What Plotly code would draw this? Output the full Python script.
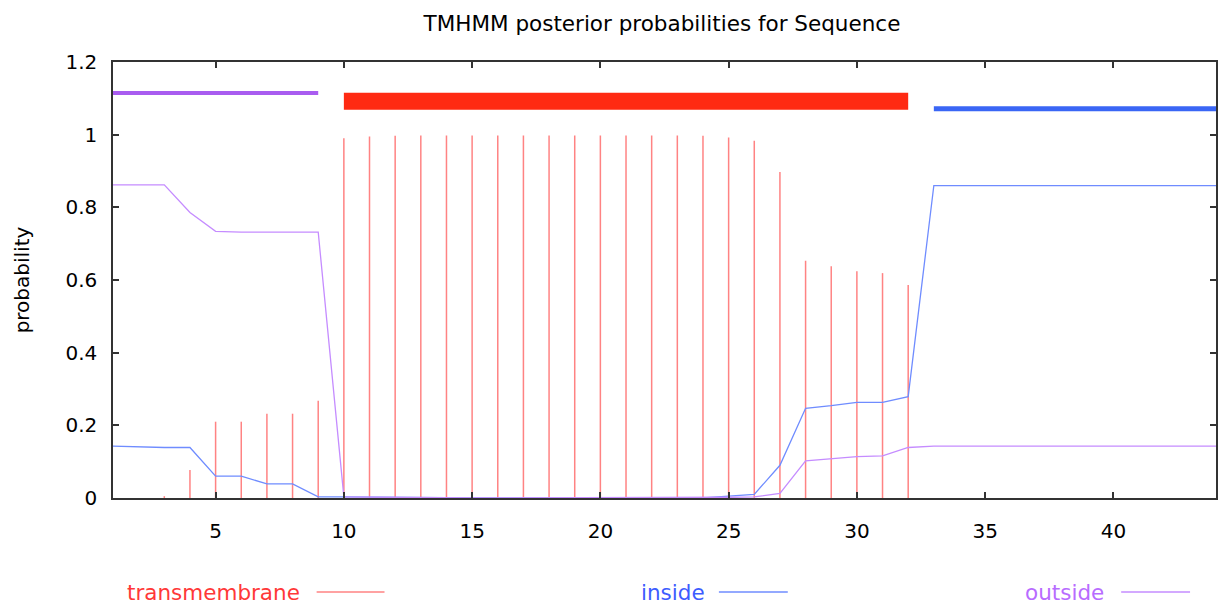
import plotly.graph_objects as go

# ---- data ----
positions = list(range(1, 45))
transmembrane = [0.0, 0.0, 0.005, 0.077, 0.21, 0.21, 0.232, 0.232, 0.268,
                 0.99, 0.995, 0.997, 0.998, 0.998, 0.998, 0.998, 0.998, 0.998, 0.998,
                 0.998, 0.998, 0.998, 0.998, 0.997, 0.992, 0.983, 0.897,
                 0.653, 0.638, 0.624, 0.619, 0.586,
                 0, 0, 0, 0, 0, 0, 0, 0, 0, 0, 0, 0]
inside = [0.143, 0.14, 0.139, 0.139, 0.06, 0.06, 0.039, 0.039, 0.003,
          0.003, 0.003, 0.002, 0.001, 0.001, 0.0, 0.0, 0.0, 0.0, 0.0,
          0.0, 0.0, 0.0, 0.0, 0.0, 0.005, 0.01, 0.09,
          0.247, 0.254, 0.263, 0.263, 0.279,
          0.86, 0.86, 0.86, 0.86, 0.86, 0.86, 0.86, 0.86, 0.86, 0.86, 0.86, 0.86]
outside = [0.862, 0.862, 0.862, 0.786, 0.734, 0.732, 0.732, 0.732, 0.732,
           0.003, 0.002, 0.001, 0.001, 0.0, 0.0, 0.0, 0.0, 0.0, 0.0,
           0.0, 0.0, 0.0, 0.0, 0.0, 0.002, 0.003, 0.013,
           0.102, 0.107, 0.114, 0.116, 0.139,
           0.143, 0.143, 0.143, 0.143, 0.143, 0.143, 0.143, 0.143, 0.143, 0.143, 0.143, 0.143]

# predicted topology segments: (label, start, end, level)
topology = [("outside", 1, 9, 1.115), ("TMhelix", 10, 32, 1.092), ("inside", 33, 44, 1.071)]

x_ticks = [5, 10, 15, 20, 25, 30, 35, 40]
y_ticks = [0, 0.2, 0.4, 0.6, 0.8, 1, 1.2]

# ---- styles ----
C_TM_LINE = "rgba(255,90,90,0.75)"
C_TM_BAR = "#ff2a12"
C_IN_LINE = "#6f8cff"
C_IN_BAR = "#3a66f5"
C_OUT_LINE = "#c58cff"
C_OUT_BAR = "#a95cf0"
FONT = "DejaVu Sans"

fig = go.Figure()

# transmembrane impulses
imp_x, imp_y = [], []
for p, v in zip(positions, transmembrane):
    imp_x += [p, p, None]
    imp_y += [0, v, None]
fig.add_trace(go.Scatter(x=imp_x, y=imp_y, mode="lines",
                         line=dict(color=C_TM_LINE, width=1.5),
                         hoverinfo="skip", showlegend=False))

fig.add_trace(go.Scatter(x=positions, y=inside, mode="lines",
                         line=dict(color=C_IN_LINE, width=1.3), showlegend=False))
fig.add_trace(go.Scatter(x=positions, y=outside, mode="lines",
                         line=dict(color=C_OUT_LINE, width=1.3), showlegend=False))

bar_style = {"outside": (C_OUT_BAR, 4), "TMhelix": (C_TM_BAR, 17), "inside": (C_IN_BAR, 5)}
for lab, s, e, lvl in topology:
    col, w = bar_style[lab]
    fig.add_trace(go.Scatter(x=[s, e], y=[lvl, lvl], mode="lines",
                             line=dict(color=col, width=w), showlegend=False))

# legend (text followed by line sample, like the original)
legend_items = [("transmembrane", C_TM_LINE, "#ff3838", 125, 317, 385),
                ("inside", C_IN_LINE, "#3d5cff", 640, 720, 789),
                ("outside", C_OUT_LINE, "#b86cff", 1025, 1123, 1192)]
L, R, T, B = 113, 3, 62, 108
W, H = 1221, 606
pw, ph = W - L - R, H - T - B
ly = -(592 - (H - B)) / ph
for txt, lc, tc, tx, x0, x1 in legend_items:
    fig.add_annotation(text=txt, xref="paper", yref="paper", x=(tx - L) / pw, y=ly,
                       xanchor="left", yanchor="middle", showarrow=False,
                       font=dict(family=FONT, size=21.5, color=tc))
    fig.add_shape(type="line", xref="paper", yref="paper",
                  x0=(x0 - L) / pw, x1=(x1 - L) / pw, y0=ly, y1=ly,
                  line=dict(color=lc, width=1.5))

fig.update_layout(
    width=W, height=H,
    margin=dict(l=L, r=R, t=T, b=B),
    paper_bgcolor="white", plot_bgcolor="white",
    title=dict(text="TMHMM posterior probabilities for Sequence", x=662 / W, xanchor="center",
               y=1 - 23 / H, yanchor="middle",
               font=dict(family=FONT, size=21.5, color="#000")),
    font=dict(family=FONT, color="#111"),
    xaxis=dict(range=[1, 44], tickvals=x_ticks, showgrid=False, zeroline=False,
               showline=True, mirror="allticks", linecolor="#333", linewidth=1.5,
               ticks="inside", ticklen=6, tickcolor="#333", tickwidth=1.5,
               tickfont=dict(family=FONT, size=20, color="#000"),
               ticklabelstandoff=14),
    yaxis=dict(range=[0, 1.2], tickvals=y_ticks, showgrid=False,
               zeroline=True, zerolinecolor="#999", zerolinewidth=3,
               showline=True, mirror="allticks", linecolor="#333", linewidth=1.5,
               ticks="inside", ticklen=6, tickcolor="#333", tickwidth=1.5,
               tickfont=dict(family=FONT, size=20, color="#000"),
               ticklabelstandoff=10,
               title=dict(text="probability", font=dict(family=FONT, size=20, color="#000"),
                          standoff=30)),
)

fig.write_html("out.html", config={"displayModeBar": False},
               post_script="document.body.style.margin='0';")
